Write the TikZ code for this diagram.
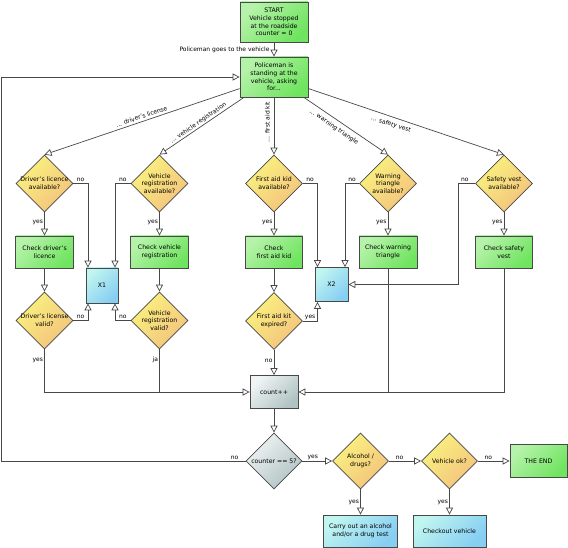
\documentclass[tikz,border=0pt]{standalone}
\usepackage{fontspec}
\setmainfont{DejaVu Sans}
\usetikzlibrary{shapes.geometric,arrows.meta,calc}
\definecolor{gA}{HTML}{B6F3AA}
\definecolor{gB}{HTML}{70E460}
\definecolor{yA}{HTML}{FAF27E}
\definecolor{yB}{HTML}{F3C27E}
\definecolor{cA}{HTML}{C0F5F0}
\definecolor{cB}{HTML}{86CEF2}
\definecolor{sA}{HTML}{F0F4F4}
\definecolor{sB}{HTML}{B0C2C2}
\definecolor{ln}{HTML}{484848}
\begin{document}
\begin{tikzpicture}[x=1pt,y=-1pt,
  font=\fontsize{6.2}{7.7}\selectfont,
  box/.style={draw=ln, line width=0.7pt, align=center, inner sep=1pt},
  green/.style={top color=gA, bottom color=gB, shading angle=45},
  cyan/.style={top color=cA, bottom color=cB, shading angle=45},
  grey/.style={top color=sA, bottom color=sB, shading angle=45},
  yel/.style={top color=yA, bottom color=yB, shading angle=45},
  dec/.style={diamond, draw=ln, line width=0.7pt, minimum width=57pt, minimum height=57pt, inner sep=0pt, yel},
  dlab/.style={align=center, inner sep=0pt},
  conn/.style={draw=ln, line width=0.7pt, -{Triangle[open,length=7pt,width=7pt]}},
  plain/.style={draw=ln, line width=0.7pt},
  el/.style={font=\fontsize{6}{7}\selectfont, inner sep=1.2pt}
]
\useasboundingbox (0,0) rectangle (568,548);

% top
\node[box,green,minimum width=68pt,minimum height=40pt] (start) at (274,22) {START\\Vehicle stopped\\at the roadside\\counter = 0};
\node[box,green,minimum width=68pt,minimum height=40pt] (police) at (274,77) {Policeman is\\standing at the\\vehicle, asking\\for...};

% column 1: driver's licence
\node[dec,label={[dlab]center:Driver's licence\\available?}] (da1) at (44.5,183.5) {};
\node[box,green,minimum width=58pt,minimum height=32pt] (ck1) at (44.5,252) {Check driver's\\licence};
\node[dec,label={[dlab]center:Driver's license\\valid?}] (dv1) at (44.5,320.5) {};

% column 2: registration
\node[dec,label={[dlab]center:Vehicle\\registration\\available?}] (da2) at (159.5,183.5) {};
\node[box,green,minimum width=58pt,minimum height=32pt] (ck2) at (159.5,252) {Check vehicle\\registration};
\node[dec,label={[dlab]center:Vehicle\\registration\\valid?}] (dv2) at (159.5,320.5) {};

\node[box,cyan,minimum width=32pt,minimum height=35pt] (x1) at (102,285.5) {X1};

% column 3: first aid kit
\node[dec,label={[dlab]center:First aid kid\\available?}] (da3) at (274,183.5) {};
\node[box,green,minimum width=57pt,minimum height=32pt] (ck3) at (274,252) {Check\\first aid kid};
\node[dec,label={[dlab]center:First aid kit\\expired?}] (dv3) at (274,321) {};

\node[box,cyan,minimum width=33pt,minimum height=34pt] (x2) at (331.5,284.5) {X2};

% column 4: warning triangle
\node[dec,label={[dlab]center:Warning\\triangle\\available?}] (da4) at (388,183.5) {};
\node[box,green,minimum width=58pt,minimum height=32pt] (ck4) at (388,252) {Check warning\\triangle};

% column 5: safety vest
\node[dec,label={[dlab]center:Safety vest\\available?}] (da5) at (504,183.5) {};
\node[box,green,minimum width=57pt,minimum height=32pt] (ck5) at (504,252) {Check safety\\vest};

% bottom
\node[box,grey,minimum width=48pt,minimum height=33pt] (count) at (274,392) {count++};
\node[dec,grey,minimum width=56pt,minimum height=56pt,label={[dlab]center:counter == 5?}] (counter) at (274,461) {};
\node[dec,minimum width=56pt,minimum height=56pt,label={[dlab]center:Alcohol /\\drugs?}] (alc) at (360.5,461) {};
\node[dec,minimum width=56pt,minimum height=56pt,label={[dlab]center:Vehicle ok?}] (vok) at (449.5,461) {};
\node[box,green,minimum width=57pt,minimum height=33pt] (end) at (538.5,461) {THE END};
\node[box,cyan,minimum width=74pt,minimum height=32pt] (carry) at (360.5,531) {Carry out an alcohol\\and/or a drug test};
\node[box,cyan,minimum width=73pt,minimum height=32pt] (checkout) at (449.5,531) {Checkout vehicle};

\coordinate (loopc) at (1,461);
\coordinate (c5) at (458,183.5);
\coordinate (j1) at (dv2.south |- count.west);
\coordinate (j2) at (ck4.south |- count.east);

% labels of the five questions
\node[el,rotate=18.8] (l1) at (141.5,116.5) {... driver's license};
\node[el,rotate=34.3] (l2) at (198.5,123) {... vehicle registration};
\node[el,rotate=90] (l3) at (267.5,122) {... first aid kit};
\node[el,rotate=-34.4] (l4) at (334,127) {... warning triangle};
\node[el,rotate=-18.7] (l5) at (391,124.5) {... safety vest};

% connectors from top
\draw[conn] (start) -- node[el,left=3pt,pos=0.55]{Policeman goes to the vehicle} (police);
\draw[conn] (loopc) |- (police.west);
\draw[conn] (police) -- (da1.north);
\draw[conn] (police) -- (da2.north);
\draw[conn] (police) -- (da3.north);
\draw[conn] (police) -- (da4.north);
\draw[conn] (police) -- (da5.north);

% yes into checks
\draw[conn] (da1) -- node[el,left,pos=0.42]{yes} (ck1);
\draw[conn] (da2) -- node[el,left,pos=0.42]{yes} (ck2);
\draw[conn] (da3) -- node[el,left,pos=0.42]{yes} (ck3);
\draw[conn] (da4) -- node[el,left,pos=0.42]{yes} (ck4);
\draw[conn] (da5) -- node[el,left,pos=0.42]{yes} (ck5);

% checks to validity
\draw[conn] (ck1) -- (dv1);
\draw[conn] (ck2) -- (dv2);
\draw[conn] (ck3) -- (dv3);

% to X1
\draw[conn] (da1.east) -| node[el,above,pos=0.25]{no} ([xshift=-14pt]x1.north);
\draw[conn] (da2.west) -| node[el,above,pos=0.25]{no} ([xshift=13pt]x1.north);
\draw[conn] (dv1.east) -| node[el,above,pos=0.25]{no} ([xshift=-14pt]x1.south);
\draw[conn] (dv2.west) -| node[el,above,pos=0.25]{no} ([xshift=13pt]x1.south);

% to X2
\draw[conn] (da3.east) -| node[el,above,pos=0.25]{no} ([xshift=-14pt]x2.north);
\draw[conn] (da4.west) -| node[el,above,pos=0.25]{no} ([xshift=13.5pt]x2.north);
\draw[conn] (dv3.east) -| node[el,above,pos=0.25]{yes} ([xshift=-14pt]x2.south);
\draw[conn] (da5.west) -- node[el,above,pos=0.6]{no} (c5) |- (x2.east);

% to count++
\draw[conn] (dv1.south) |- node[el,left,pos=0.13]{yes} (count.west);
\draw[plain] (dv2.south) -- node[el,left,pos=0.25]{ja} (j1);
\draw[conn] (dv3) -- node[el,left,pos=0.45]{no} (count);
\draw[conn] (ck4.south) |- (count.east);
\draw[plain] (ck5.south) |- (j2);

% bottom flow
\draw[conn] (count) -- (counter);
\draw[plain] (counter.west) -- node[el,above,pos=0.045]{no} (loopc);
\draw[conn] (counter) -- node[el,above,pos=0.35]{yes} (alc);
\draw[conn] (alc) -- node[el,above,pos=0.33]{no} (vok);
\draw[conn] (vok) -- node[el,above,pos=0.33]{no} (end);
\draw[conn] (alc) -- node[el,left,pos=0.52]{yes} (carry);
\draw[conn] (vok) -- node[el,left,pos=0.52]{yes} (checkout);
\end{tikzpicture}
\end{document}
